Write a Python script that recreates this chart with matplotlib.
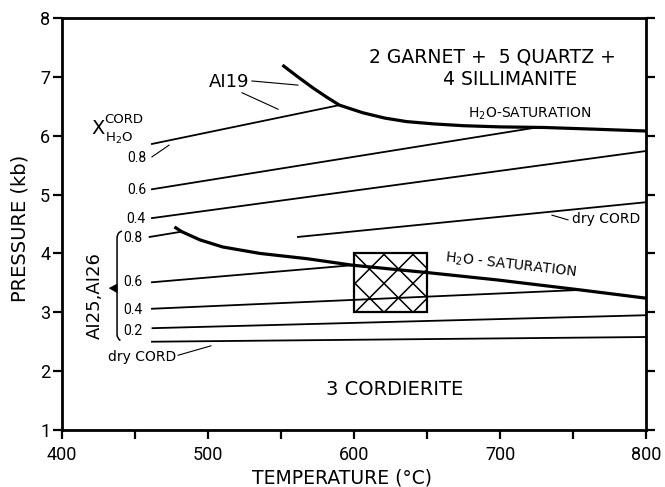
import matplotlib
matplotlib.use("Agg")
import matplotlib.pyplot as plt
from matplotlib.patches import Rectangle, Polygon, PathPatch
from matplotlib.path import Path
import numpy as np

plt.rcParams['font.family'] = ['DejaVu Sans']
plt.rcParams['mathtext.fontset'] = 'dejavusans'
NUM_FONT = ['Roboto', 'DejaVu Sans']

# ---- data -----------------------------------------------------------
# H2O-saturation curves (T in degC, P in kb)
sat_hi_T = [551, 561, 572, 581, 590, 606, 621, 636, 655, 675, 700, 730, 766, 800]
sat_hi_P = [7.20, 7.01, 6.81, 6.66, 6.52, 6.39, 6.30, 6.24, 6.20, 6.17, 6.15, 6.14, 6.11, 6.08]
sat_lo_T = [477, 482, 494.5, 510, 535.6, 568, 599, 631.5, 652, 698, 755, 800]
sat_lo_P = [4.45, 4.37, 4.23, 4.11, 4.00, 3.91, 3.80, 3.72, 3.67, 3.55, 3.38, 3.24]

# X(H2O) isopleths, sample Al19 (upper set)
upper_X = ['0.8', '0.6', '0.4', 'dry CORD']
upper_T0 = [461.6, 461.6, 461.6, 561.6]
upper_T1 = [590.0, 725.0, 800.0, 800.0]
upper_P0 = [5.86, 5.09, 4.60, 4.28]
upper_P1 = [6.52, 6.14, 5.74, 4.87]

# X(H2O) isopleths, samples Al25/Al26 (lower set)
lower_X = ['0.8', '0.6', '0.4', '0.2', 'dry CORD']
lower_T0 = [460.0, 461.6, 461.6, 462.0, 461.6]
lower_T1 = [482.0, 599.0, 755.0, 800.0, 800.0]
lower_P0 = [4.28, 3.51, 3.06, 2.73, 2.50]
lower_P1 = [4.37, 3.80, 3.38, 2.95, 2.58]

# P-T estimate box
box_T = [600, 650]
box_P = [3.0, 4.0]

x_major = [400, 500, 600, 700, 800]
x_minor = [450, 550, 650, 750]
y_ticks = [1, 2, 3, 4, 5, 6, 7, 8]

# ---- figure ---------------------------------------------------------
W, H = 665, 487
fig = plt.figure(figsize=(W / 100, H / 100), dpi=100)
ax = fig.add_axes([62 / W, 57 / H, 584 / W, 412 / H])
ax.set_xlim(400, 800)
ax.set_ylim(1, 8)

for sp in ax.spines.values():
    sp.set_linewidth(2.0)

ax.set_xticks(x_major)
ax.set_xticks(x_minor, minor=True)
ax.set_yticks(y_ticks)
ax.tick_params(axis='both', which='both', direction='out', length=6.5, width=1.6,
               labelsize=13)
ax.tick_params(axis='y', right=True, pad=2)
ax.tick_params(axis='x', which='both', pad=5)
for lbl in ax.get_xticklabels() + ax.get_yticklabels():
    lbl.set_fontfamily(NUM_FONT)

ax.set_xlabel('TEMPERATURE (°C)', fontsize=13.5, va='baseline')
ax.xaxis.set_label_coords(0.479, -0.131)
ax.set_ylabel('PRESSURE (kb)', fontsize=14, va='center')
ax.yaxis.set_label_coords(-0.0719, 0.49)

thin = 1.3
thick = 2.3

# saturation curves
ax.plot(sat_hi_T, sat_hi_P, color='black', lw=thick, solid_capstyle='butt', zorder=3)
ax.plot(sat_lo_T, sat_lo_P, color='black', lw=thick, solid_capstyle='butt', zorder=3)

# isopleths
for t0, t1, p0, p1 in zip(upper_T0, upper_T1, upper_P0, upper_P1):
    ax.plot([t0, t1], [p0, p1], color='black', lw=thin, zorder=2)
for t0, t1, p0, p1 in zip(lower_T0, lower_T1, lower_P0, lower_P1):
    ax.plot([t0, t1], [p0, p1], color='black', lw=thin, zorder=2)

# isopleth labels
lab_fs = 10
for lab, p in zip(upper_X[1:3], upper_P0[1:3]):
    ax.text(457.5, p - 0.01, lab, ha='right', va='center', fontsize=lab_fs,
            family=NUM_FONT)
ax.text(457.5, 5.62, upper_X[0], ha='right', va='center', fontsize=lab_fs,
        family=NUM_FONT)
ax.plot([461.6, 473.3], [5.64, 5.84], color='black', lw=0.8)
ax.text(773, 4.59, upper_X[3], ha='center', va='center', fontsize=lab_fs)
ax.plot([735.6, 746.6], [4.65, 4.57], color='black', lw=0.8)

lower_lab_P = [4.27, 3.51, 3.04, 2.68]
for lab, p in zip(lower_X[:4], lower_lab_P):
    ax.text(455.0, p, lab, ha='right', va='center', fontsize=lab_fs, family=NUM_FONT)
ax.text(455.0, 2.24, lower_X[4], ha='center', va='center', fontsize=lab_fs)
ax.plot([479.5, 502.0], [2.27, 2.43], color='black', lw=0.8)

# X^CORD_H2O label
ax.text(424.7, 6.13, 'X', ha='center', va='center', fontsize=14)
ax.text(429.0, 6.27, 'CORD', ha='left', va='center', fontsize=9.5)
ax.text(429.5, 5.96, r'H$_2$O', ha='left', va='center', fontsize=9.5)

# Al19 label and leaders
ax.text(514.4, 6.91, 'AI19', ha='center', va='center', fontsize=13)
ax.plot([530.1, 561.6], [6.93, 6.86], color='black', lw=0.8)
ax.plot([523.3, 548.0], [6.73, 6.45], color='black', lw=0.8)

# Al25, Al26 brace with pointer
bx = 437.7
brace = Path([(441.1, 4.38), (bx, 4.36), (bx, 4.25),
              (bx, 2.62),
              (bx, 2.56), (440.0, 2.52)],
             [Path.MOVETO, Path.CURVE3, Path.CURVE3, Path.LINETO,
              Path.CURVE3, Path.CURVE3])
ax.add_patch(PathPatch(brace, fill=False, lw=1.1, ec='black'))
ax.add_patch(Polygon([(432.4, 3.41), (bx, 3.478), (bx, 3.335)], closed=True,
                     fc='black', ec='black', lw=0.5))
ax.text(422.6, 3.28, 'AI25,AI26', rotation=90, ha='center', va='center', fontsize=13)

# saturation labels
ax.text(720.2, 6.37, r'H$_2$O-SATURATION', ha='center', va='center', fontsize=10)
ax.text(707.5, 3.79, r'H$_2$O - SATURATION', ha='center', va='center', fontsize=10,
        rotation=-6.5, rotation_mode='anchor')

# assemblage labels
ax.text(694.5, 7.34, '2 GARNET +  5 QUARTZ +', ha='center', va='center', fontsize=13.5)
ax.text(706.8, 6.95, '4 SILLIMANITE', ha='center', va='center', fontsize=13.5)
ax.text(628, 1.68, '3 CORDIERITE', ha='center', va='center', fontsize=14)

# cross-hatched P-T box
rect = Rectangle((box_T[0], box_P[0]), box_T[1] - box_T[0], box_P[1] - box_P[0],
                 fill=False, ec='black', lw=1.6, zorder=5)
ax.add_patch(rect)
clip = Rectangle((box_T[0], box_P[0]), box_T[1] - box_T[0], box_P[1] - box_P[0],
                 transform=ax.transData, visible=False)
ax.add_patch(clip)
(u0, v0), (u1, v1) = ax.transData.transform([(box_T[0], box_P[0]), (box_T[1], box_P[1])])
inv = ax.transData.inverted()
step = 29.0
span = np.array([u0 - 200, u1 + 200])
for k in range(-6, 8):
    # "\" family through the top-left corner
    c = u0 + k * step
    pts = inv.transform(np.column_stack([span, v1 - (span - c)]))
    ln, = ax.plot(pts[:, 0], pts[:, 1], color='black', lw=1.1, zorder=4)
    ln.set_clip_path(clip)
    # "/" family
    c2 = u0 + 31 + k * step
    pts = inv.transform(np.column_stack([span, v1 + (span - c2)]))
    ln, = ax.plot(pts[:, 0], pts[:, 1], color='black', lw=1.1, zorder=4)
    ln.set_clip_path(clip)

fig.savefig('out.png', dpi=100)
